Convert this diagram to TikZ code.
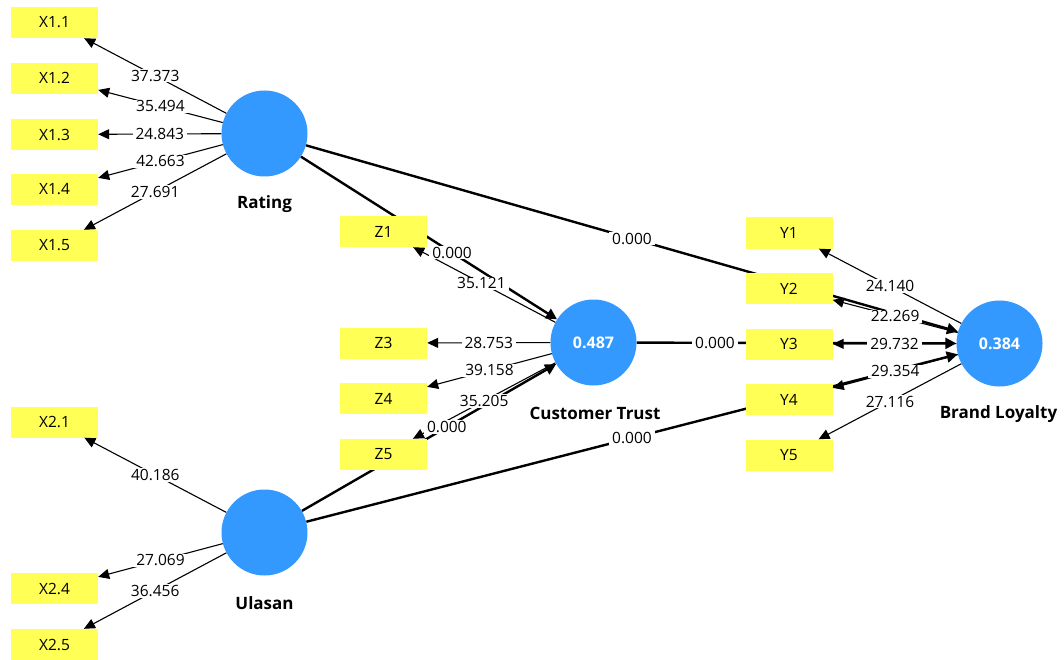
\documentclass[tikz,border=0pt]{standalone}
\usepackage{fontspec}
\setmainfont{Open Sans}
\usetikzlibrary{arrows.meta}
\pgfdeclarelayer{bg}
\pgfdeclarelayer{fg}
\pgfsetlayers{bg,main,fg}
\definecolor{indy}{RGB}{255,255,85}
\definecolor{lvc}{RGB}{51,153,255}
\begin{document}
\begin{tikzpicture}[x=1pt,y=-1pt,
  ind/.style={rectangle,fill=indy,minimum width=87pt,minimum height=31pt,inner sep=0pt,font=\fontsize{15.5}{18}\selectfont},
  lv/.style={circle,fill=lvc,minimum size=86pt,inner sep=0pt,text=white,font=\fontsize{16}{19}\selectfont\bfseries},
  lvname/.style={font=\fontsize{17}{20}\selectfont\bfseries},
  load/.style={line width=1.1pt,-{Triangle[length=11pt,width=10pt]}},
  struct/.style={line width=2.4pt,-{Triangle[length=11pt,width=11pt]}},
  val/.style={fill=white,inner xsep=3pt,inner ysep=1pt,font=\fontsize{15.5}{18}\selectfont}
]
\useasboundingbox (0,0) rectangle (1064,660);

% latent variables
\node[lv] (R)  at (264.5,133.5) {};
\node[lv] (U)  at (264.5,532.5) {};
\node[lv] (CT) at (593.5,342.5) {0.487};
\node[lv] (BL) at (999.5,343.5) {0.384};
\node[lvname] (nR)  at (264.5,204) {Rating};
\node[lvname] (nU)  at (264.5,603) {Ulasan};
\node[lvname] (nCT) at (595,413) {Customer Trust};
\node[lvname] (nBL) at (998.5,414) {Brand Loyalty};

% indicators
\node[ind] (X11) at (54.5,22.5)  {X1.1};
\node[ind] (X12) at (54.5,78.5)  {X1.2};
\node[ind] (X13) at (54.5,134.5) {X1.3};
\node[ind] (X14) at (54.5,189.5) {X1.4};
\node[ind] (X15) at (54.5,245.5) {X1.5};
\node[ind] (X21) at (54.5,422)   {X2.1};
\node[ind] (X24) at (54.5,588.5) {X2.4};
\node[ind] (X25) at (54.5,644.5) {X2.5};
\node[ind] (Z1) at (383.5,231.5) {Z1};
\node[ind] (Z3) at (383.5,343)   {Z3};
\node[ind] (Z4) at (383.5,398.5) {Z4};
\node[ind] (Z5) at (383.5,454.5) {Z5};
\node[ind] (Y1) at (789,233)   {Y1};
\node[ind] (Y2) at (789,288.5) {Y2};
\node[ind] (Y3) at (789,344)   {Y3};
\node[ind] (Y4) at (789,399.5) {Y4};
\node[ind] (Y5) at (789,455)   {Y5};

% structural paths (behind the boxes)
\begin{pgfonlayer}{bg}
\fill[white] (0,0) rectangle (1064,660);
\draw[struct] (R) -- (CT);
\draw[struct] (R) -- (BL);
\draw[struct] (U) -- (CT);
\draw[struct] (U) -- (BL);
\draw[struct] (CT) -- (BL);
\end{pgfonlayer}

% loadings
\foreach \i in {X11,X12,X13,X14,X15} {\draw[load] (R) -- (\i);}
\foreach \i in {X21,X24,X25} {\draw[load] (U) -- (\i);}
\foreach \i in {Z1,Z3,Z4,Z5} {\draw[load] (CT) -- (\i);}
\foreach \i in {Y1,Y2,Y3,Y4,Y5} {\draw[load] (BL) -- (\i);}

% labels
\begin{pgfonlayer}{fg}
\path (R) -- (X11) node[val,pos=0.5] {37.373};
\path (R) -- (X12) node[val,pos=0.5] {35.494};
\path (R) -- (X13) node[val,pos=0.5] {24.843};
\path (R) -- (X14) node[val,pos=0.5] {42.663};
\path (R) -- (X15) node[val,pos=0.5] {27.691};
\path (U) -- (X21) node[val,pos=0.5] {40.186};
\path (U) -- (X24) node[val,pos=0.5] {27.069};
\path (U) -- (X25) node[val,pos=0.5] {36.456};
\path (CT) -- (Z1) node[val,pos=0.52] {35.121};
\path (CT) -- (Z3) node[val,pos=0.5] {28.753};
\path (CT) -- (Z4) node[val,pos=0.5] {39.158};
\path (CT) -- (Z5) node[val,pos=0.5] {35.205};
\path (BL) -- (Y1) node[val,pos=0.5] {24.140};
\path (BL) -- (Y2) node[val,pos=0.5] {22.269};
\path (BL) -- (Y3) node[val,pos=0.5] {29.732};
\path (BL) -- (Y4) node[val,pos=0.5] {29.354};
\path (BL) -- (Y5) node[val,pos=0.5] {27.116};
\path (R) -- (CT) node[val,pos=0.59] {0.000};
\path (U) -- (CT) node[val,pos=0.57] {0.000};
\path (R) -- (BL) node[val,pos=0.5] {0.000};
\path (U) -- (BL) node[val,pos=0.5] {0.000};
\path (CT) -- (BL) node[val,pos=0.245] {0.000};
\end{pgfonlayer}
\end{tikzpicture}
\end{document}
